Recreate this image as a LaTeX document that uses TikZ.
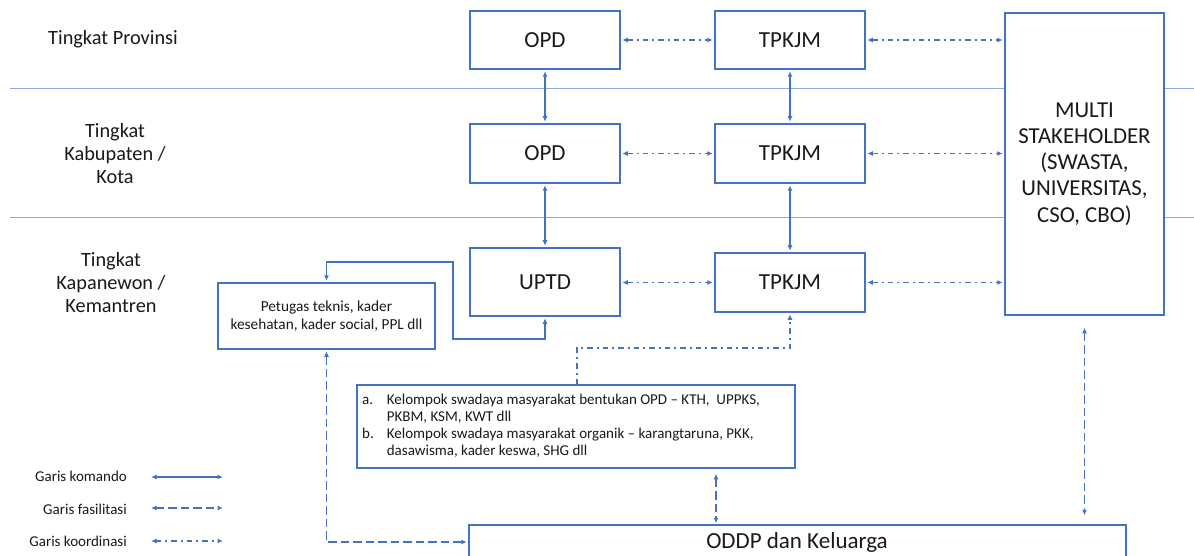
\documentclass[tikz,border=0pt]{standalone}
\usepackage{fontspec}
\setmainfont{Carlito}
\usetikzlibrary{arrows.meta}
\definecolor{bx}{HTML}{4472C4}
\definecolor{sepc}{HTML}{8FAADC}
\definecolor{tx}{HTML}{1A1A1A}
\begin{document}
\begin{tikzpicture}[x=1pt,y=-1pt,
 >={Latex[length=5.5pt,width=5pt]},
 box/.style={draw=bx,line width=1.5pt,fill=white,text=tx,inner sep=0pt,align=center},
 big/.style={font=\fontsize{23}{27}\selectfont},
 conn/.style={draw=bx,line width=1.1pt,<->,shorten <=1.5pt,shorten >=1.5pt},
 komando/.style={conn},
 fasil/.style={conn,dash pattern=on 8.5pt off 4pt},
 koord/.style={conn,dash pattern=on 5.5pt off 4pt on 2pt off 4pt},
 lvl/.style={text=tx,font=\fontsize{20.3}{23}\selectfont,align=center,inner sep=0pt},
 leg/.style={text=tx,font=\fontsize{15}{17}\selectfont,anchor=east,inner sep=0pt},
]
\useasboundingbox[fill=white] (0,0) rectangle (1194,556);

% multi stakeholder box first (for separators)
\node[box,minimum width=159pt,minimum height=302pt,font=\fontsize{22.8}{26.2}\selectfont] (multi) at (1084.5,164)
  {MULTI\\STAKEHOLDER\\(SWASTA,\\UNIVERSITAS,\\CSO, CBO)};

% separators
\coordinate (s1) at (10,89);
\coordinate (s1e) at (1194,89);
\coordinate (s2) at (10,218);
\coordinate (s2e) at (1194,218);
\draw[sepc,line width=1pt] (s1) -- (s1 -| multi.west) (s1 -| multi.east) -- (s1e);
\draw[sepc,line width=1pt] (s2) -- (s2 -| multi.west) (s2 -| multi.east) -- (s2e);

% level labels
\node[lvl] (lv1) at (113,39) {Tingkat Provinsi};
\node[lvl] (lv2) at (115,154) {Tingkat\\Kabupaten /\\Kota};
\node[lvl] (lv3) at (111,283) {Tingkat\\Kapanewon /\\Kemantren};

% boxes
\node[box,big,minimum width=150pt,minimum height=58pt] (opd1) at (545,40) {OPD};
\node[box,big,minimum width=150pt,minimum height=58pt] (tp1) at (790,40) {TPKJM};
\node[box,big,minimum width=150pt,minimum height=59pt] (opd2) at (545,153.5) {OPD};
\node[box,big,minimum width=150pt,minimum height=59pt] (tp2) at (790,153.5) {TPKJM};
\node[box,big,minimum width=150pt,minimum height=68pt] (uptd) at (545,282) {UPTD};
\node[box,big,minimum width=150pt,minimum height=59pt] (tp3) at (790,282.5) {TPKJM};
\node[box,minimum width=217pt,minimum height=66pt,font=\fontsize{15.3}{18}\selectfont] (pet) at (326.5,316)
  {Petugas teknis, kader\\kesehatan, kader social, PPL dll};
\node[box,minimum width=438pt,minimum height=83pt] (kel) at (576,426.5) {};
\node[text=tx,anchor=north west,inner sep=0pt,font=\fontsize{15}{17.2}\selectfont,align=left] (keltext) at (362,392)
  {\begin{tabular}{@{}l@{\hspace{13pt}}l@{}}
   a. & Kelompok swadaya masyarakat bentukan OPD -- KTH,\ \ UPPKS,\\
      & PKBM, KSM, KWT dll\\
   b. & Kelompok swadaya masyarakat organik -- karangtaruna, PKK,\\
      & dasawisma, kader keswa, SHG dll
   \end{tabular}};
\node[box,big,minimum width=657pt,minimum height=34pt] (oddp) at (797.5,542) {};
\node[text=tx,big,inner sep=0pt] (oddpt) at (797,542) {ODDP dan Keluarga};

% komando (vertical)
\draw[komando] (opd1) -- (opd2);
\draw[komando] (opd2) -- (uptd);
\draw[komando] (tp1) -- (tp2);
\draw[komando] (tp2) -- (tp3);

% koordinasi (horizontal)
\draw[koord] (opd1.east) -- (tp1.west);
\draw[koord] (opd2.east) -- (tp2.west);
\draw[koord] (uptd.east |- tp3.west) -- (tp3.west);
\draw[koord] (tp1.east) -- (tp1.east -| multi.west);
\draw[koord] (tp2.east) -- (tp2.east -| multi.west);
\draw[koord] (tp3.east) -- (tp3.east -| multi.west);

% komando UPTD - Petugas
\coordinate (k1) at (453,339);
\coordinate (k2) at (453,262);
\draw[komando] (uptd.south) |- (k1) -- (k2) -| (pet.north);

% fasilitasi Petugas - ODDP
\draw[fasil] (pet.south) |- (oddp.west);

% koordinasi Kelompok - TPKJM 3
\coordinate (c1) at (577,348);
\draw[koord,->,shorten <=0pt] (kel.north -| c1) -- (c1) -| (tp3.south);

% fasilitasi Kelompok - ODDP
\coordinate (f1) at (716,500);
\draw[fasil,shorten <=5pt,shorten >=1pt] (kel.south -| f1) -- (oddp.north -| f1);

% fasilitasi Multi - ODDP
\draw[fasil,shorten <=12pt,shorten >=9pt] (multi.south) -- (multi.south |- oddp.north);

% legend
\node[leg] (lg1) at (127,476) {Garis komando};
\node[leg] (lg2) at (127,509) {Garis fasilitasi};
\node[leg] (lg3) at (127,541) {Garis koordinasi};
\coordinate (la1) at (151,477); \coordinate (lb1) at (223,477);
\coordinate (la2) at (151,508); \coordinate (lb2) at (223,508);
\coordinate (la3) at (151,541); \coordinate (lb3) at (223,541);
\draw[komando,shorten <=0pt,shorten >=0pt] (la1) -- (lb1);
\draw[fasil,shorten <=0pt,shorten >=0pt] (la2) -- (lb2);
\draw[koord,shorten <=0pt,shorten >=0pt] (la3) -- (lb3);
\end{tikzpicture}
\end{document}
